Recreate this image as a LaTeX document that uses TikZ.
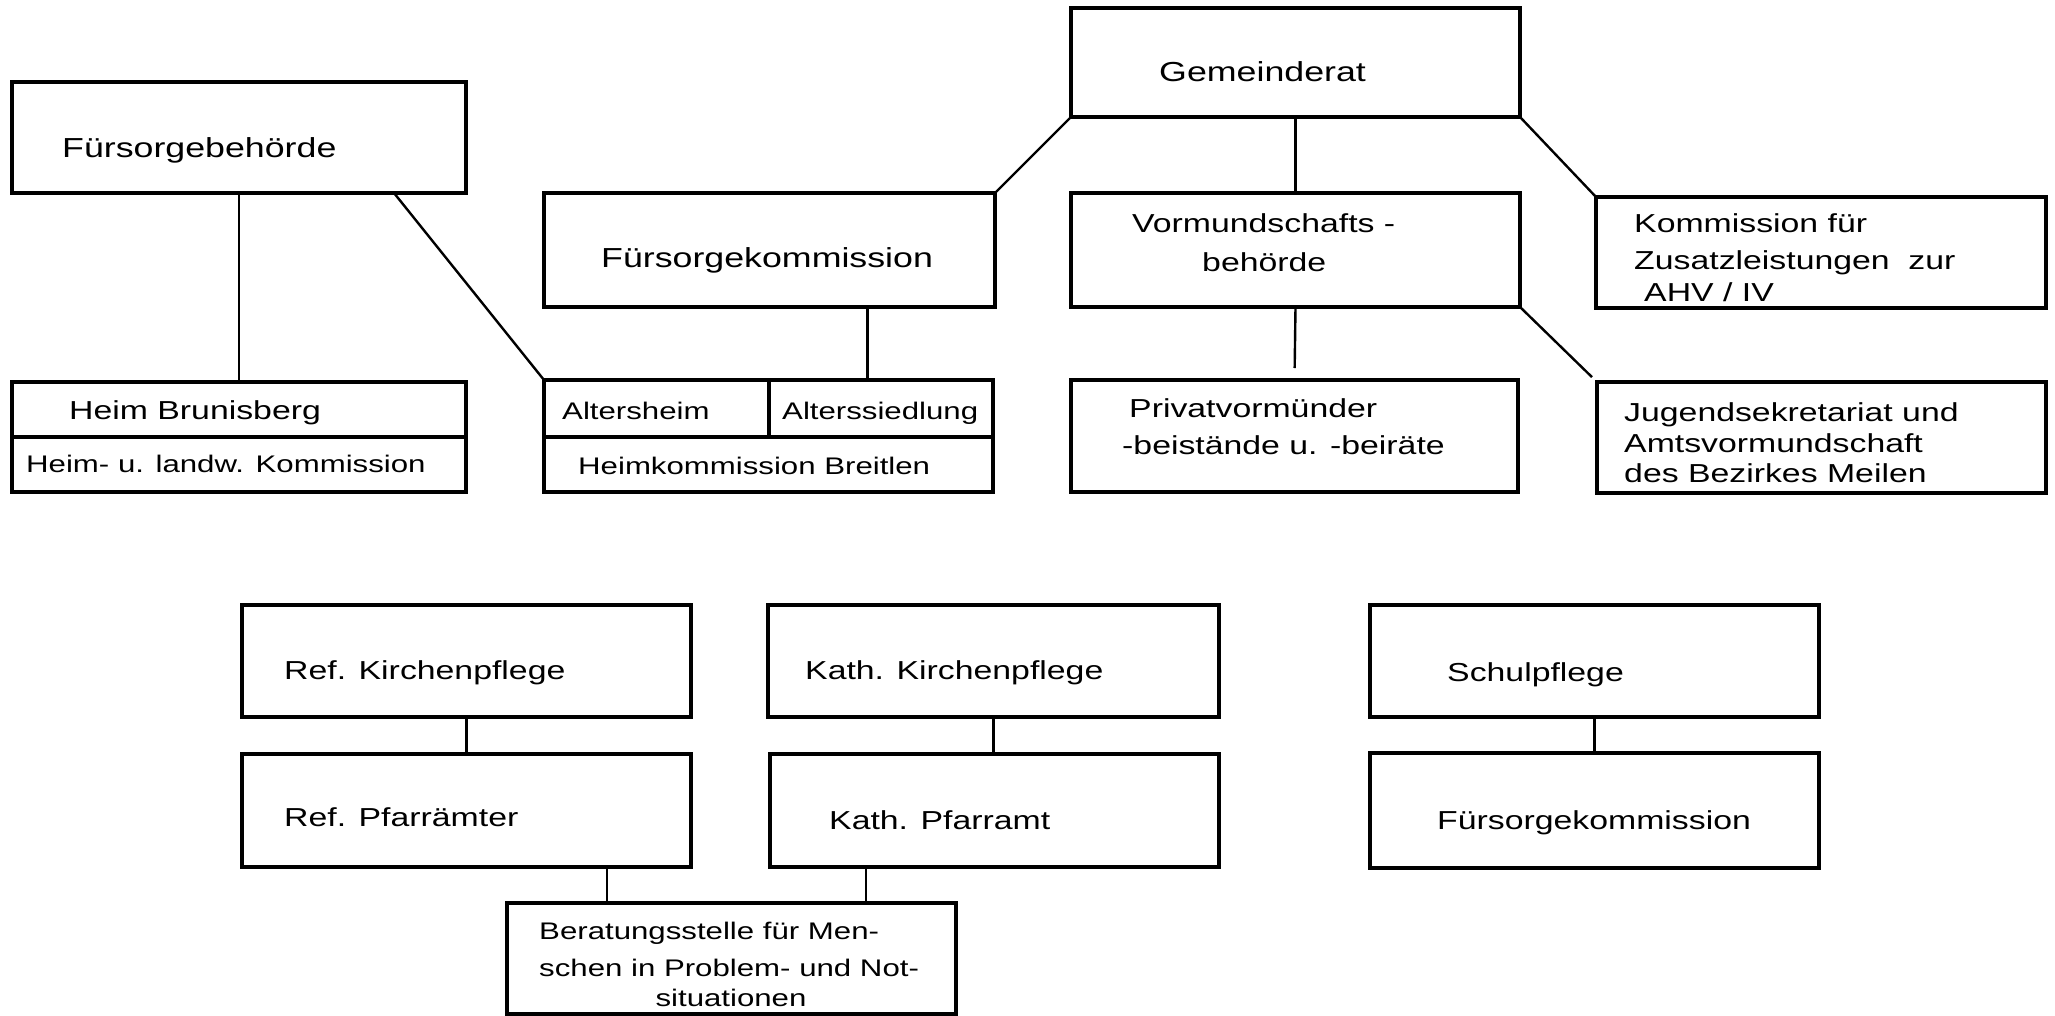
\documentclass[tikz,border=0pt]{standalone}
\usepackage{fontspec}
\newfontfamily\hand[FakeStretch=1.3]{Liberation Sans}
\usetikzlibrary{calc}
\tikzset{
 box/.style={draw, line width=3.2pt, inner sep=0pt, outer sep=0pt, anchor=north west},
 conn/.style={line width=2.4pt},
 lbl/.style={anchor=base west, inner sep=0pt, font=\hand\fontsize{26}{30}\selectfont},
 lblbig/.style={lbl, font=\hand\fontsize{27.5}{32}\selectfont},
 lblsm/.style={lbl, font=\hand\fontsize{24}{28}\selectfont},
}
\begin{document}
\begin{tikzpicture}[x=1pt,y=-1pt]
\useasboundingbox[fill=white] (0,0) rectangle (2055,1015);
% boxes
\node[box, minimum width=454pt, minimum height=111pt] (fb) at (12,82) {};
\node[box, minimum width=449pt, minimum height=109pt] (gr) at (1071,8) {};
\node[box, minimum width=451pt, minimum height=114pt] (fk) at (544,193) {};
\node[box, minimum width=449pt, minimum height=114pt] (vb) at (1071,193) {};
\node[box, minimum width=450pt, minimum height=111pt] (kz) at (1596,197) {};
\node[box, minimum width=454pt, minimum height=55pt] (hb1) at (12,382) {};
\node[box, minimum width=454pt, minimum height=55pt] (hb2) at (12,437) {};
\node[box, minimum width=225pt, minimum height=57pt] (ah) at (544,380) {};
\node[box, minimum width=224pt, minimum height=57pt] (as) at (769,380) {};
\node[box, minimum width=449pt, minimum height=55pt] (hk) at (544,437) {};
\node[box, minimum width=447pt, minimum height=112pt] (pv) at (1071,380) {};
\node[box, minimum width=449pt, minimum height=111pt] (jg) at (1597,382) {};
\node[box, minimum width=449pt, minimum height=112pt] (rk) at (242,605) {};
\node[box, minimum width=451pt, minimum height=112pt] (kk) at (768,605) {};
\node[box, minimum width=449pt, minimum height=112pt] (sp) at (1370,605) {};
\node[box, minimum width=449pt, minimum height=113pt] (rp) at (242,754) {};
\node[box, minimum width=449pt, minimum height=113pt] (kp) at (770,754) {};
\node[box, minimum width=449pt, minimum height=115pt] (sf) at (1370,753) {};
\node[box, minimum width=449pt, minimum height=111pt] (ber) at (507,903) {};
% connectors
\draw[conn] (fb.south) -- (hb1.north);
\draw[conn] ($(fb.south east)+(-72,0)$) -- (ah.north west);
\draw[conn] (gr.south west) -- (fk.north east);
\draw[conn] (gr.south) -- (vb.north);
\draw[conn] (gr.south east) -- (kz.north west);
\coordinate (fka) at ($(fk.south)+(98,0)$);
\draw[conn] (fka) -- (fka |- as.north);
\draw[conn, shorten >=12pt] (vb.south) -- (pv.north);
\draw[conn, shorten >=7pt] (vb.south east) -- (jg.north west);
\draw[conn] (rk.south) -- (rk.south |- rp.north);
\draw[conn] (kk.south) -- (kk.south |- kp.north);
\draw[conn] (sp.south) -- (sp.south |- sf.north);
\coordinate (b1) at ($(ber.north west)+(100,0)$);
\coordinate (b2) at ($(ber.north east)+(-90,0)$);
\draw[conn] (b1) -- (b1 |- rp.south);
\draw[conn] (b2) -- (b2 |- kp.south);
% labels
\node[lblbig] (t1) at (62,157) {Fürsorgebehörde};
\node[lblbig] (t2) at (1159,81) {Gemeinderat};
\node[lblbig] (t3) at (601,267) {Fürsorgekommission};
\node[lbl] (t4) at (1132,232) {Vormundschafts -};
\node[lbl] (t5) at (1202,271) {behörde};
\node[lbl] (t6) at (1634,232) {Kommission für};
\node[lbl] (t7) at (1634,269) {Zusatzleistungen\ \ zur};
\node[lbl] (t8) at (1644,301) {AHV / IV};
\node[lbl] (t9) at (69,419) {Heim Brunisberg};
\node[lblsm] (t10) at (26,472) {Heim- u. landw. Kommission};
\node[lblsm] (t11) at (562,419) {Altersheim};
\node[lblsm] (t12) at (782,419) {Alterssiedlung};
\node[lblsm] (t13) at (578,474) {Heimkommission Breitlen};
\node[lbl] (t14) at (1129,417) {Privatvormünder};
\node[lbl] (t15) at (1122,454) {-beistände u. -beiräte};
\node[lbl] (t16) at (1624,421) {Jugendsekretariat und};
\node[lbl] (t17) at (1624,452) {Amtsvormundschaft};
\node[lbl] (t18) at (1624,482) {des Bezirkes Meilen};
\node[lbl] (t19) at (284,679) {Ref. Kirchenpflege};
\node[lbl] (t20) at (805,679) {Kath. Kirchenpflege};
\node[lbl] (t21) at (1447,681) {Schulpflege};
\node[lbl] (t22) at (284,826) {Ref. Pfarrämter};
\node[lbl] (t23) at (829,829) {Kath. Pfarramt};
\node[lbl] (t24) at (1437,829) {Fürsorgekommission};
\node[lblsm] (t25) at (539,939) {Beratungsstelle für Men-};
\node[lblsm] (t26) at (539,976) {schen in Problem- und Not-};
\node[lblsm, anchor=base] (t27) at (731,1006) {situationen};
\end{tikzpicture}
\end{document}
